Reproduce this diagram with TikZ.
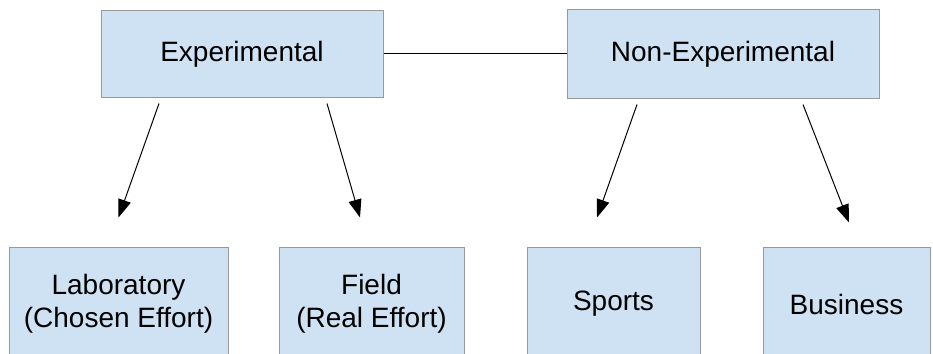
\documentclass[tikz,border=0pt]{standalone}
\usepackage{fontspec}
\setmainfont{Liberation Sans}
\usepackage{tikz}
\usepackage{xcolor}
\usetikzlibrary{arrows.meta, positioning}

\definecolor{boxfill}{HTML}{CFE2F3}
\definecolor{boxline}{HTML}{999999}

\tikzset{
  category/.style={draw=boxline, fill=boxfill, line width=1pt, inner sep=0pt,
    align=center, font=\fontsize{28}{33}\selectfont},
  branch/.style={line width=1pt, -{Triangle[length=18pt, width=13pt]}}
}

\begin{document}
\begin{tikzpicture}[x=1pt, y=-1pt]
\clip (0,0) rectangle (933,353);
\fill[white] (0,0) rectangle (933,353);

\node[category, minimum width=282pt, minimum height=86pt] (exp) at (242,54) {Experimental};
\node[category, minimum width=312pt, minimum height=88pt, right=183pt of exp] (nonexp) {Non-Experimental};

\node[category, minimum width=219pt, minimum height=114pt] (lab) at (118.5,304) {Laboratory\\(Chosen Effort)};
\node[category, minimum width=185pt, minimum height=114pt, right=50pt of lab] (field) {Field\\(Real Effort)};
\node[category, minimum width=173pt, minimum height=114pt, right=62pt of field] (sports) {Sports};
\node[category, minimum width=167pt, minimum height=114pt, right=62pt of sports] (business) {Business};

\draw[line width=1pt] (exp) -- (nonexp);

\draw[branch] ([shift={(-83,6)}]exp.south) -- ([yshift=29pt]lab.north);
\draw[branch] ([shift={(85,6)}]exp.south) -- ([shift={(-11.5,-29)}]field.north);
\draw[branch] ([shift={(-86,6)}]nonexp.south) -- ([shift={(-16.5,-29)}]sports.north);
\draw[branch] ([shift={(80,6)}]nonexp.south) -- ([shift={(2.5,-24)}]business.north);
\end{tikzpicture}
\end{document}
